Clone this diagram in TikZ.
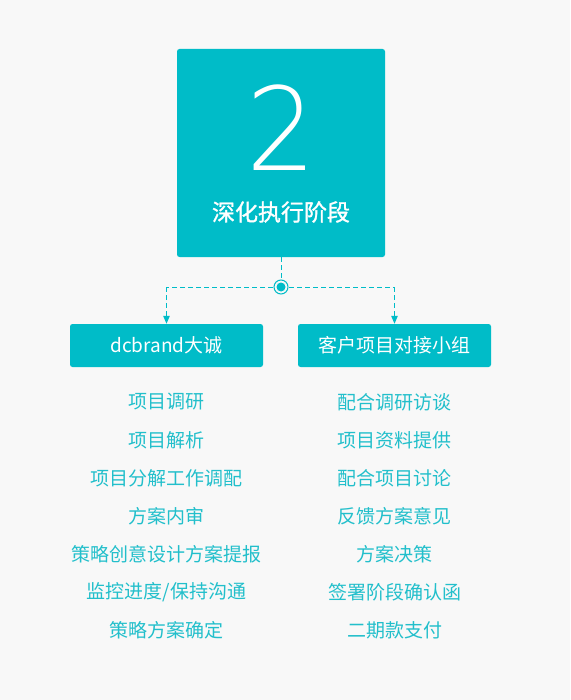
\documentclass[tikz,border=0pt]{standalone}
\usepackage{fontspec}
\setmainfont{Noto Sans CJK SC}
\newfontfamily\thinfont{DejaVu Sans ExtraLight}
\usetikzlibrary{arrows.meta}
\definecolor{teal1}{HTML}{00BCC8}
\definecolor{tealtxt}{HTML}{22BFCB}
\definecolor{bg}{HTML}{F8F8F8}
\begin{document}
\begin{tikzpicture}[x=1pt,y=-1pt,
  tealbox/.style={fill=teal1,rounded corners=2.5pt,inner sep=0pt,draw=none},
  boxtext/.style={text=white,font=\fontsize{19}{20}\selectfont},
  item/.style={text=tealtxt,font=\fontsize{19}{20}\selectfont,inner sep=0pt,anchor=center},
  dashline/.style={draw=teal1,line width=1pt,dash pattern=on 5pt off 3pt},
  tip/.style={-{Triangle[length=8pt,width=6.5pt]}}]
\fill[bg] (0,0) rectangle (570,700);
\useasboundingbox (0,0) rectangle (570,700);
% top box
\node[tealbox,minimum width=208pt,minimum height=208pt] (top) at (281,153) {};
\node[text=white,font=\thinfont\fontsize{110}{110}\selectfont,inner sep=0pt,yscale=1.05] (num) at (281,128) {2};
\node[text=white,font=\fontsize{23}{24}\selectfont,inner sep=0pt] (title) at (281,212) {\addfontfeatures{FakeBold=1.2}深化执行阶段};
% branch boxes
\node[tealbox,minimum width=193pt,minimum height=43pt,boxtext] (left) at (166.5,345.5) {dcbrand大诚};
\node[tealbox,minimum width=193pt,minimum height=43pt,boxtext] (right) at (394.5,345.5) {客户项目对接小组};
% junction
\coordinate (j) at (281,287);
\coordinate (jl) at (166.5,287);
\coordinate (jr) at (394.5,287);
\draw[dashline] (top.south) -- (j);
\draw[dashline] (j) -- (jl);
\draw[dashline] (j) -- (jr);
\draw[dashline,tip] (jl) -- (left.north);
\draw[dashline,tip] (jr) -- (right.north);
\node[circle,fill=bg,draw=teal1,line width=1pt,minimum size=14pt,inner sep=0pt] (ring) at (j) {};
\node[circle,fill=teal1,minimum size=9pt,inner sep=0pt] (dot) at (j) {};
% left list
\node[item] (l1) at (166.5,402) {项目调研};
\node[item] (l2) at (166.5,440) {项目解析};
\node[item] (l3) at (166.5,478) {项目分解工作调配};
\node[item] (l4) at (166.5,516) {方案内审};
\node[item] (l5) at (166.5,554) {策略创意设计方案提报};
\node[item] (l6) at (166.5,592) {监控进度/保持沟通};
\node[item] (l7) at (166.5,630) {策略方案确定};
% right list
\node[item] (r1) at (394.5,402) {配合调研访谈};
\node[item] (r2) at (394.5,440) {项目资料提供};
\node[item] (r3) at (394.5,478) {配合项目讨论};
\node[item] (r4) at (394.5,516) {反馈方案意见};
\node[item] (r5) at (394.5,554) {方案决策};
\node[item] (r6) at (394.5,592) {签署阶段确认函};
\node[item] (r7) at (394.5,630) {二期款支付};
\end{tikzpicture}
\end{document}
